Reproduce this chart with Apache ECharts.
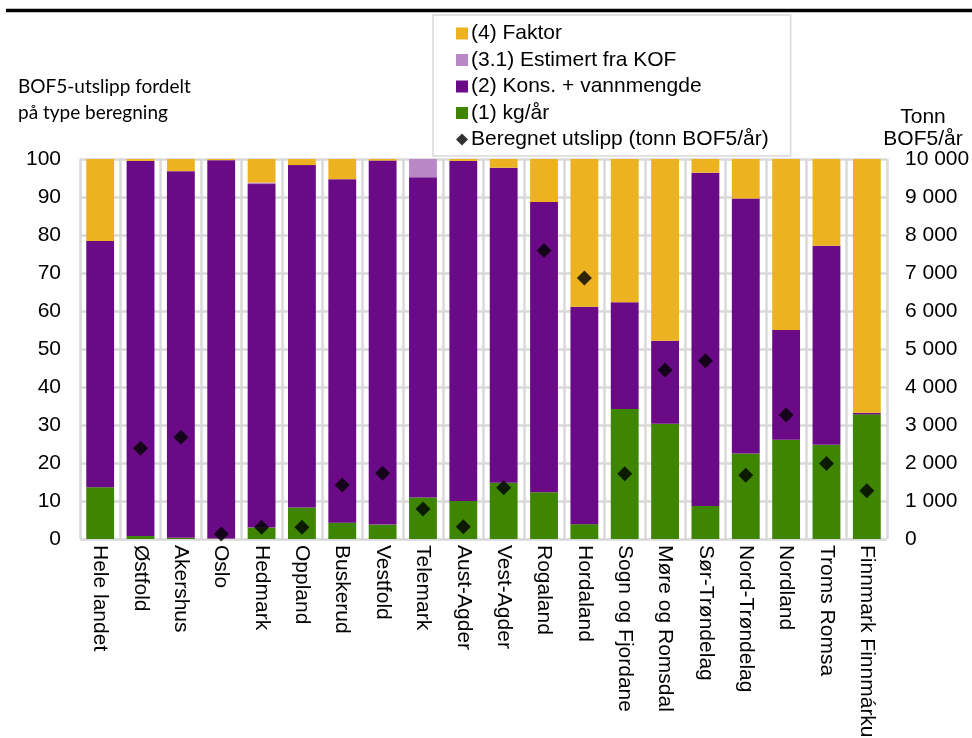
<!DOCTYPE html>
<html>
<head>
<meta charset="utf-8">
<script src="https://cdn.jsdelivr.net/npm/echarts@6/dist/echarts.min.js"></script>
<style>
  html, body { margin: 0; padding: 0; background: #ffffff; }
  #chart { width: 972px; height: 738px; }
</style>
</head>
<body>
<div id="chart"></div>
<script>
// Fylker (counties) along the category axis
const categories = [
  'Hele landet', 'Østfold', 'Akershus', 'Oslo', 'Hedmark', 'Oppland', 'Buskerud',
  'Vestfold', 'Telemark', 'Aust-Agder', 'Vest-Agder', 'Rogaland', 'Hordaland',
  'Sogn og Fjordane', 'Møre og Romsdal', 'Sør-Trøndelag', 'Nord-Trøndelag',
  'Nordland', 'Troms Romsa', 'Finnmark Finnmárku'
];

// Share of BOF5 emissions (%) by calculation method
const kgPerYear = [13.6, 0.8, 0.3, 0.1, 3.0, 8.3, 4.3, 3.8, 10.9, 10.0, 14.8, 12.3, 3.9, 34.2, 30.3, 8.7, 22.5, 26.1, 24.8, 32.8];
const konsVannmengde = [64.8, 98.7, 96.5, 99.6, 90.4, 90.1, 90.4, 95.8, 84.3, 89.5, 82.9, 76.4, 57.2, 28.1, 21.9, 87.7, 67.1, 28.9, 52.4, 0.4];
const estimertKOF = [0, 0, 0, 0, 0.4, 0, 0, 0, 4.8, 0, 0, 0, 0, 0, 0, 0, 0, 0, 0, 0];
const faktor = [21.6, 0.5, 3.2, 0.3, 6.2, 1.6, 5.3, 0.4, 0, 0.5, 2.3, 11.3, 38.9, 37.7, 47.8, 3.6, 10.4, 45.0, 22.8, 66.8];

// Calculated emissions (tonn BOF5/år); the national total is outside the right-axis range
const beregnetUtslipp = [null, 2390, 2680, 130, 310, 310, 1420, 1730, 790, 325, 1350, 7590, 6870, 1720, 4450, 4690, 1680, 3260, 1990, 1270];

const leftTicks = { min: 0, max: 100, interval: 10 };
const rightTicks = { min: 0, max: 10000, interval: 1000 };

const FONT = '"Liberation Sans", Arial, sans-serif';
const FONT_SIZE = 21;
const GRID_COLOR = '#d9d9d9';

const chart = echarts.init(document.getElementById('chart'), null, { renderer: 'canvas' });

const barBase = { type: 'bar', stack: 'andel', barCategoryGap: '31%', xAxisIndex: 0, yAxisIndex: 0 };

chart.setOption({
  animation: false,
  backgroundColor: '#ffffff',
  textStyle: { fontFamily: FONT },
  grid: { left: 80, right: 85, top: 159, bottom: 199, containLabel: false, outerBoundsMode: 'none' },
  legend: {
    orient: 'vertical',
    left: 433,
    top: 15,
    padding: [8, 22, 6, 23],
    itemGap: 5.5,
    itemWidth: 12,
    itemHeight: 12,
    backgroundColor: '#ffffff',
    borderColor: GRID_COLOR,
    borderWidth: 1.5,
    borderRadius: 0,
    textStyle: { fontFamily: FONT, fontSize: FONT_SIZE, color: '#000000', padding: [0, 0, 0, -2] },
    data: [
      { name: '(4) Faktor', icon: 'rect' },
      { name: '(3.1) Estimert fra KOF', icon: 'rect' },
      { name: '(2) Kons. + vannmengde', icon: 'rect' },
      { name: '(1) kg/år', icon: 'rect' },
      { name: 'Beregnet utslipp (tonn BOF5/år)', icon: 'diamond' }
    ]
  },
  xAxis: {
    type: 'category',
    data: categories,
    boundaryGap: true,
    axisLine: { show: false },
    axisTick: { show: false },
    splitLine: { show: true, lineStyle: { color: GRID_COLOR, width: 2.5 } },
    axisLabel: {
      rotate: -90,
      interval: 0,
      margin: 6,
      fontFamily: FONT,
      fontSize: FONT_SIZE,
      color: '#000000'
    }
  },
  yAxis: [
    {
      type: 'value',
      min: leftTicks.min,
      max: leftTicks.max,
      interval: leftTicks.interval,
      position: 'left',
      axisLine: { show: false },
      axisTick: { show: false },
      splitLine: { show: true, lineStyle: { color: GRID_COLOR, width: 2.5 } },
      axisLabel: { margin: 19, fontFamily: FONT, fontSize: FONT_SIZE, color: '#000000' }
    },
    {
      type: 'value',
      min: rightTicks.min,
      max: rightTicks.max,
      interval: rightTicks.interval,
      position: 'right',
      axisLine: { show: false },
      axisTick: { show: false },
      splitLine: { show: false },
      axisLabel: {
        margin: 18,
        fontFamily: FONT,
        fontSize: FONT_SIZE,
        color: '#000000',
        formatter: function (v) {
          return String(v).replace(/\B(?=(\d{3})+(?!\d))/g, ' ');
        }
      }
    }
  ],
  graphic: [
    {
      type: 'line',
      shape: { x1: 6, y1: 10.5, x2: 972, y2: 10.5 },
      style: { stroke: '#000000', lineWidth: 3.5 }
    },
    {
      type: 'text',
      x: 18,
      y: 74,
      style: {
        text: 'BOF5-utslipp fordelt\npå type beregning',
        font: '19px Lato, "Open Sans", sans-serif',
        fill: '#000000',
        lineHeight: 26
      }
    },
    {
      type: 'text',
      x: 923,
      y: 106,
      style: {
        text: 'Tonn\nBOF5/år',
        font: FONT_SIZE + 'px ' + FONT,
        fill: '#000000',
        align: 'center',
        lineHeight: 22
      }
    }
  ],
  series: [
    Object.assign({}, barBase, { name: '(1) kg/år', data: kgPerYear, itemStyle: { color: '#3e8501' } }),
    Object.assign({}, barBase, { name: '(2) Kons. + vannmengde', data: konsVannmengde, itemStyle: { color: '#6a0a87' } }),
    Object.assign({}, barBase, { name: '(3.1) Estimert fra KOF', data: estimertKOF, itemStyle: { color: '#b987c5' } }),
    Object.assign({}, barBase, { name: '(4) Faktor', data: faktor, itemStyle: { color: '#ecb220' } }),
    {
      type: 'scatter',
      name: 'Beregnet utslipp (tonn BOF5/år)',
      xAxisIndex: 0,
      yAxisIndex: 1,
      symbol: 'diamond',
      symbolSize: 15,
      z: 5,
      itemStyle: { color: '#000000' },
      data: beregnetUtslipp
    }
  ]
});
</script>
</body>
</html>
